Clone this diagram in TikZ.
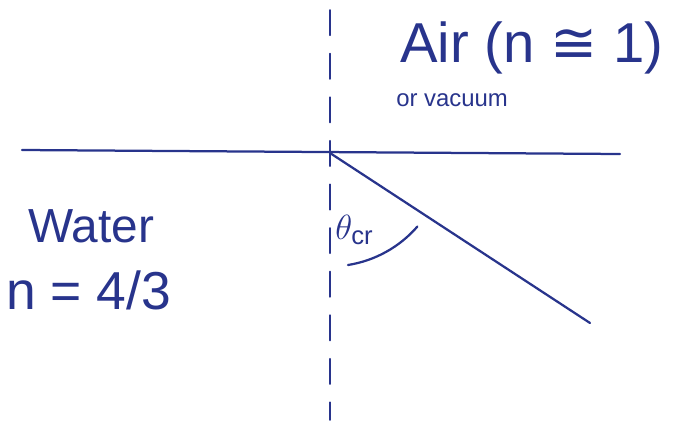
\documentclass[tikz,border=0pt]{standalone}
\usepackage{fontspec}
\setmainfont{Liberation Sans}
\newfontfamily\symfont{DejaVu Sans}
\definecolor{ink}{RGB}{40,52,140}
\begin{document}
\begin{tikzpicture}
[
    x=0.025cm, y=-0.025cm,
    line/.style={draw=ink, line width=1.6pt, line cap=round},
    label/.style={text=ink, anchor=west, inner sep=0pt}
]
    \useasboundingbox (0,0) rectangle (695,428);
    % points
    \coordinate (O) at (330,153);
    \coordinate (left) at (22,150);
    \coordinate (right) at (620,154);
    \coordinate (top) at (330,10);
    \coordinate (bottom) at (330,420);
    \coordinate (ray) at (590,323);
    \coordinate (arcstart) at (348,265);
    % surface, normal and ray
    \draw [line] (left) -- (right);
    \draw [line, line width=1.2pt, dash pattern=on 18pt off 13pt] (top) -- (bottom);
    \draw [line] (O) -- (ray);
    \draw [line] (arcstart) arc (81:41:116);
    % labels
    \node [label, font=\fontsize{40}{42}\selectfont] (air) at (400,48) {Air (n {\symfont ≅} 1)};
    \node [label, font=\fontsize{17}{19}\selectfont] (vacuum) at (396,100) {or vacuum};
    \node [label, font=\fontsize{26}{28}\selectfont] (theta) at (335,230) {$\theta_{\mathrm{cr}}$};
    \node [label, font=\fontsize{34}{36}\selectfont] (water) at (28,226) {Water};
    \node [label, font=\fontsize{38}{40}\selectfont] (index) at (6,290) {n = 4/3};
\end{tikzpicture}
\end{document}
